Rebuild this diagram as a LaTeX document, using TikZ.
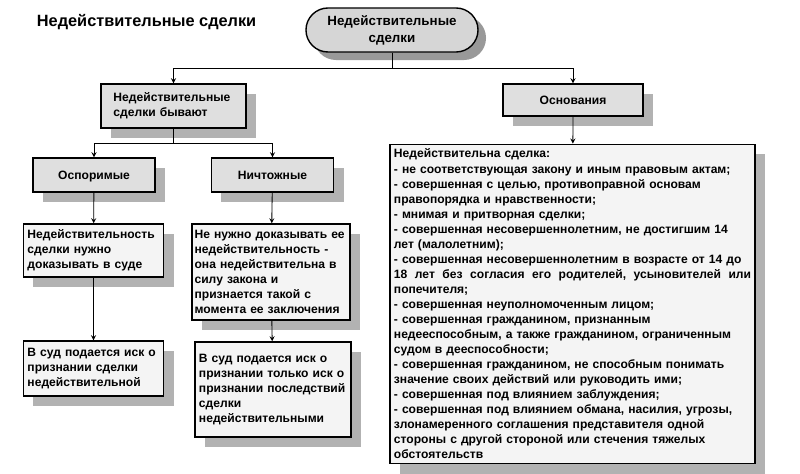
\documentclass[tikz,border=0pt]{standalone}
\usepackage{fontspec}
\setmainfont{Liberation Sans}
\usetikzlibrary{shadows}

\begin{document}
\begin{tikzpicture}[x=0.025cm, y=-0.025cm, font=\bfseries\fontsize{8.6}{10.7}\selectfont,
    shade10/.style={drop shadow={shadow xshift=0.25cm, shadow yshift=-0.25cm, fill=gray!60, opacity=1}},
    head/.style={rectangle, draw, line width=1pt, fill=gray!25, shade10},
    one/.style={text height=1.6ex, text depth=0.4ex},
    txt/.style={rectangle, draw, line width=1pt, fill=gray!9, align=left, inner xsep=0.1cm, shade10},
    arr/.style={->, >=stealth, line width=0.6pt}]
    \useasboundingbox (0,0) rectangle (800,473);
    % Title
    \node[anchor=west, font=\bfseries\fontsize{11.6}{13}\selectfont] (title) at (32,22) {Недействительные сделки};
    % Top
    \node[draw, line width=1pt, rounded corners=0.55cm, fill=gray!32, minimum width=4.3cm, minimum height=1.1cm, align=center, font=\bfseries\fontsize{9.5}{12}\selectfont,
        drop shadow={shadow xshift=0.2cm, shadow yshift=-0.2cm, fill=gray!80, opacity=1}] (top) at (392,30) {Недействительные\\сделки};
    % Second level
    \node[head, minimum width=3.625cm, minimum height=1.1cm, text width=3.0cm, align=left, inner xsep=0.3cm] (byv) at (173.5,106) {Недействительные\\сделки бывают};
    \node[head, one, minimum width=3.5cm, minimum height=0.8cm] (osn) at (573,100) {Основания};
    % Third level
    \node[head, one, minimum width=3.05cm, minimum height=0.85cm] (osp) at (94,175) {Оспоримые};
    \node[head, one, minimum width=3.05cm, minimum height=0.85cm] (nich) at (272.5,175) {Ничтожные};
    % Text boxes
    \node[txt, text width=3.3cm, minimum height=1.325cm] (dok) at (93.5,250.5) {Недействительность\\сделки нужно\\доказывать в суде};
    \node[txt, text width=3.82cm, inner xsep=0.065cm, minimum height=2.4cm] (nenuzh) at (271,272) {Не нужно доказывать  ее\\недействительность -\\она недействительна в\\силу закона и\\признается такой с\\момента ее заключения};
    \node[txt, text width=3.3cm, minimum height=1.375cm] (isk1) at (93.5,368.5) {В суд подается иск о\\признании сделки\\недействительной};
    \node[txt, text width=3.7cm, minimum height=2.375cm] (isk2) at (273,389.5) {В суд подается иск о\\признании только иск о\\признании последствий\\сделки\\недействительными};
    \node[txt, text width=8.925cm, minimum height=7.8cm] (big) at (572.5,304) {Недействительна сделка:\\
        - не соответствующая закону и иным правовым актам;\\
        - совершенная с целью, противоправной основам\\
        правопорядка и нравственности;\\
        - мнимая и притворная сделки;\\
        - совершенная  несовершеннолетним,  не достигшим 14\\
        лет  (малолетним);\\
        - совершенная несовершеннолетним в возрасте от  14 до\\
        18\hfill лет\hfill без\hfill согласия\hfill его\hfill родителей,\hfill усыновителей\hfill или\\
        попечителя;\\
        - совершенная неуполномоченным лицом;\\
        - совершенная гражданином, признанным\\
        недееспособным,  а также гражданином,  ограниченным\\
        судом в дееспособности;\\
        - совершенная гражданином, не способным понимать\\
        значение своих действий или руководить ими;\\
        - совершенная под влиянием заблуждения;\\
        - совершенная под влиянием обмана, насилия, угрозы,\\
        злонамеренного соглашения представителя одной\\
        стороны с другой стороной или стечения  тяжелых\\
        обстоятельств};
    % Arrows
    \draw[arr] (top.south) -- ++(0,16) -| (byv.north);
    \draw[arr] (top.south) -- ++(0,16) -| (osn.north);
    \draw[arr] (byv.south) -- ++(0,15) -| (osp.north);
    \draw[arr] (byv.south) -- ++(0,15) -| (nich.north);
    \draw[arr] (osp) -- (dok);
    \draw[arr] (nich) -- (nenuzh);
    \draw[arr] (dok) -- (isk1);
    \draw[arr] (nenuzh) -- (isk2);
    \draw[arr] (osn) -- (big);
\end{tikzpicture}
\end{document}
